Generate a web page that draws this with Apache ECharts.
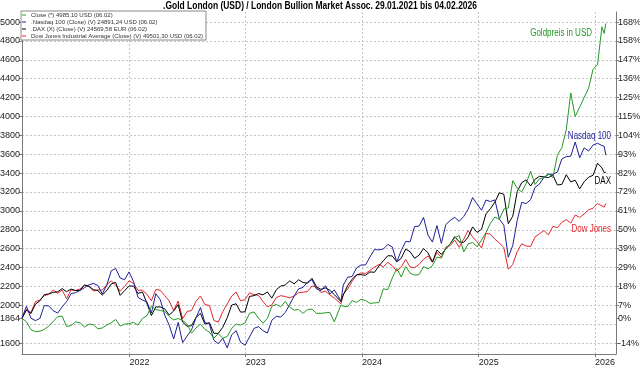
<!DOCTYPE html>
<html>
<head>
<meta charset="utf-8">
<script src="https://cdn.jsdelivr.net/npm/echarts@6/dist/echarts.min.js"></script>
<style>html,body{margin:0;padding:0;background:#fff}#c{width:640px;height:366px}</style>
</head>
<body>
<div id="c"></div>
<script>
const dates = [
'2021-01-29','2021-02-12','2021-02-26','2021-03-12','2021-03-26','2021-04-09','2021-04-23','2021-05-07','2021-05-21','2021-06-04','2021-06-18','2021-07-02','2021-07-16','2021-07-30','2021-08-13','2021-08-27','2021-09-10','2021-09-24','2021-10-08','2021-10-22','2021-11-05','2021-11-19','2021-12-03','2021-12-17','2021-12-31',
'2022-01-14','2022-01-28','2022-02-11','2022-02-25','2022-03-11','2022-03-25','2022-04-08','2022-04-22','2022-05-06','2022-05-20','2022-06-03','2022-06-17','2022-07-01','2022-07-15','2022-07-29','2022-08-12','2022-08-26','2022-09-09','2022-09-23','2022-10-07','2022-10-21','2022-11-04','2022-11-18','2022-12-02','2022-12-16','2022-12-30',
'2023-01-13','2023-01-27','2023-02-10','2023-02-24','2023-03-10','2023-03-24','2023-04-07','2023-04-21','2023-05-05','2023-05-19','2023-06-02','2023-06-16','2023-06-30','2023-07-14','2023-07-28','2023-08-11','2023-08-25','2023-09-08','2023-09-22','2023-10-06','2023-10-27','2023-11-03','2023-11-17','2023-12-01','2023-12-15','2023-12-29',
'2024-01-12','2024-01-26','2024-02-09','2024-02-23','2024-03-08','2024-03-22','2024-04-05','2024-04-19','2024-05-03','2024-05-17','2024-05-31','2024-06-14','2024-06-28','2024-07-12','2024-07-26','2024-08-09','2024-08-23','2024-09-06','2024-09-20','2024-10-04','2024-10-18','2024-11-01','2024-11-15','2024-11-29','2024-12-13','2024-12-27',
'2025-01-10','2025-01-24','2025-02-07','2025-02-21','2025-03-07','2025-03-21','2025-04-04','2025-04-18','2025-05-02','2025-05-16','2025-05-30','2025-06-13','2025-06-27','2025-07-11','2025-07-25','2025-08-08','2025-08-22','2025-09-05','2025-09-19','2025-10-03','2025-10-17','2025-10-31','2025-11-14','2025-11-28','2025-12-12','2025-12-26',
'2026-01-09','2026-01-23','2026-01-30','2026-02-04'
];
// Gold London (USD)
const gold = [
1864,1825,1743,1720,1725,1745,1780,1830,1880,1885,1775,1785,1825,1815,1770,1800,1795,1750,1760,1790,1815,1850,1780,1800,1805,
1820,1790,1860,1890,1990,1955,1945,1935,1880,1845,1860,1840,1800,1705,1760,1800,1745,1715,1650,1700,1650,1670,1755,1800,1790,1815,
1915,1930,1865,1810,1860,1990,2010,1985,2040,1980,1950,1955,1915,1955,1960,1915,1915,1920,1925,1825,2005,1990,1985,2050,2030,2065,
2050,2020,2025,2030,2175,2165,2290,2390,2300,2410,2340,2320,2325,2410,2385,2420,2510,2500,2610,2650,2715,2740,2565,2650,2665,2620,
2690,2770,2870,2935,2910,3020,3030,3320,3240,3200,3290,3420,3280,3340,3350,3400,3350,3590,3670,3860,4250,4000,4100,4200,4300,4500,
4550,4950,4880,4985
];
// Nasdaq 100 (index points)
const nasdaq = [
12925,13800,12920,12740,12900,13850,13820,13470,13300,13750,14140,14720,14800,14960,15160,15370,15480,15320,14700,15350,16400,16570,15870,15750,16320,
15610,14450,14250,14120,13300,14720,14270,13140,12400,11400,12610,11130,11600,12070,12950,13700,12600,12500,11310,11040,11450,10740,11700,12000,11150,10940,
11540,12170,12300,12010,11830,12770,13060,13000,13340,13920,14550,15080,15180,15570,15750,15070,14940,15300,14700,15000,14180,15350,15930,15980,16620,16830,
16830,17420,17960,17940,18000,18340,18150,17040,17890,18550,18540,19660,19680,20330,19020,18510,19720,18420,19800,20100,20330,20030,20390,20930,21780,21310,
20850,21600,21490,21610,20200,19750,17400,18260,20100,21430,21340,21630,22530,22780,23270,23470,23500,23650,24620,24790,24820,25860,24700,25430,25200,25640,
25770,25600,25550,24891
];
// DAX (index points)
const dax = [
13433,14050,13786,14500,14750,15230,15280,15400,15440,15690,15450,15650,15540,15540,15980,15850,15610,15530,15200,15540,16050,16160,15170,15530,15885,
15880,15320,15430,14570,13630,14300,14280,14140,13670,13980,14460,13130,12810,12860,13480,13800,12970,13090,12280,12270,12730,13460,14430,14530,13890,13920,
15090,15150,15310,15210,15430,14960,15600,15880,15960,16280,16050,16360,16150,16100,16470,15830,15630,15740,15560,15230,14690,15190,15920,16400,16750,16750,
16700,16960,16930,17420,17810,18200,18180,17740,18000,18700,18500,18000,18240,18750,18420,17720,18630,18300,18720,19120,19660,19250,19210,19630,20400,19980,
20210,21390,21790,22290,23000,22890,20640,21210,23090,23770,23990,23520,24030,24260,24220,24160,24360,23600,23640,24380,23830,23960,23300,23840,24190,24340,
25260,24900,24540,24569
];
// Dow Jones Industrial Average (index points)
const dow = [
29983,31460,30930,32780,33070,33800,34040,34780,34210,34760,33290,34790,34690,34935,35515,35455,34610,34800,34750,35680,36330,35600,34580,35370,36340,
35910,34730,34740,34060,32940,34860,34720,33810,32900,31260,32900,29890,31100,31290,32850,33760,32280,32150,29590,29300,31080,32400,33750,34430,32920,33150,
34300,33980,33870,32820,31910,32240,33490,33810,33670,33430,33760,34300,34410,34510,35460,35280,34350,34580,33960,33410,32420,34060,34950,36250,37300,37690,
37590,38110,38670,39130,38720,39480,38900,37990,38680,40000,38690,38590,39120,40000,40590,39500,41175,40345,42060,42350,43280,42050,43440,44910,43830,42990,
41940,44420,44300,43430,42800,41990,38310,39140,41320,42650,42270,42200,43820,44370,44900,44175,45630,45400,46315,46760,46190,47560,47150,47720,48460,48710,
49504,49098,48892,49501
];
const leftTicks = [1600,1864,2000,2200,2400,2600,2800,3000,3200,3400,3600,3800,4000,4200,4400,4600,4800,5000];
const rightTickLabels = ['-14%','0%','7%','18%','29%','39%','50%','61%','72%','82%','93%','104%','115%','125%','136%','147%','158%','168%'];
const gridValues = [1600,1800,2000,2200,2400,2600,2800,3000,3200,3400,3600,3800,4000,4200,4400,4600,4800,5000];
const yearTicks = [2022,2023,2024,2025,2026];
const seriesNames = [
 'Close (*) 4985,10 USD (06.02)',
 '.Nasdaq 100 (Close) (V) 24891,24 USD (06.02)',
 '.DAX (X) (Close) (V) 24569,58 EUR (06.02)',
 'Dow Jones Industrial Average (Close) (V) 49501,30 USD (06.02)'
];
const titleText = '.Gold London (USD) / London Bullion Market Assoc. 29.01.2021 bis 04.02.2026';
const colors = ['#229922','#1e1e96','#000000','#e3262b'];

const F = "'Liberation Sans',Arial,sans-serif";
const ts = s => { const p = s.split('-').map(Number); return new Date(p[0], p[1] - 1, p[2]).getTime(); };
const base = gold[0];
const rebase = arr => arr.map(v => v * base / arr[0]);
const pairs = vals => dates.map((d, i) => [ts(d), vals[i]]);
const yearTs = yearTicks.map(y => new Date(y, 0, 1).getTime());
const lineSeries = (name, vals, color, z) => ({
  name, type: 'line', data: pairs(vals), showSymbol: false, symbol: 'none',
  lineStyle: {width: 1, color}, itemStyle: {color}, z, animation: false, yAxisIndex: 0
});

const chart = echarts.init(document.getElementById('c'), null, {renderer: 'canvas'});
const axisY = (pos, fmt, margin) => ({
  type: 'value', position: pos, min: 1484, max: 5107,
  axisLine: {show: true, lineStyle: {color: '#7a7a7a', width: 1}},
  axisTick: {show: true, customValues: leftTicks, length: 3, inside: false, lineStyle: {color: '#7a7a7a'}},
  axisLabel: {show: true, customValues: leftTicks, formatter: fmt, margin,
    fontFamily: F, fontSize: 9, color: '#222'},
  splitLine: {show: false}
});
const annot = (text, x, y, color) => ({type: 'text', x, y, scaleX: 0.8, z: 10,
  style: {text, fill: color, font: '10px ' + F, textAlign: 'right', textVerticalAlign: 'middle'}});
chart.setOption({
  animation: false,
  grid: {left: 22, right: 24, top: 12, bottom: 12, containLabel: false, outerBoundsMode: 'none'},
  legend: {
    data: seriesNames, orient: 'vertical', left: 21, top: 11,
    padding: [1, 3, 1, 1], itemGap: 1, itemWidth: 4, itemHeight: 1, icon: 'rect',
    backgroundColor: '#fff', borderColor: '#8a8a8a', borderWidth: 1,
    textStyle: {fontFamily: F, fontSize: 6, lineHeight: 6, color: '#333'},
    selectedMode: false
  },
  xAxis: {
    type: 'value', min: ts('2021-01-29'), max: ts('2026-03-08'),
    axisLine: {show: true, lineStyle: {color: '#7a7a7a'}},
    axisTick: {show: true, customValues: yearTs, length: 3, lineStyle: {color: '#7a7a7a'}},
    axisLabel: {customValues: yearTs, formatter: v => String(new Date(v).getFullYear()),
      align: 'left', margin: 4, fontFamily: F, fontSize: 9, color: '#222'},
    splitLine: {show: true, lineStyle: {color: '#c4c4c4', type: [2, 2], width: 1}}
  },
  yAxis: [
    axisY('left', v => String(v), 2),
    axisY('right', v => rightTickLabels[leftTicks.indexOf(v)], 2),
    {type: 'value', min: 1484, max: 5107, position: 'left',
     axisLine: {show: false}, axisLabel: {show: false, customValues: gridValues},
     axisTick: {show: false, customValues: gridValues},
     splitLine: {show: true, lineStyle: {color: '#c4c4c4', type: [2, 2], width: 1}}}
  ],
  series: [
    lineSeries(seriesNames[3], rebase(dow), colors[3], 2),
    lineSeries(seriesNames[2], rebase(dax), colors[2], 3),
    lineSeries(seriesNames[1], rebase(nasdaq), colors[1], 4),
    lineSeries(seriesNames[0], gold, colors[0], 5)
  ],
  graphic: [
    {type: 'text', x: 320, y: 6, scaleX: 0.77, z: 10,
     style: {text: titleText, fill: '#000', font: 'bold 11px ' + F, textAlign: 'center', textVerticalAlign: 'middle'}},
    annot('Goldpreis in USD', 592, 33, colors[0]),
    annot('Nasdaq 100', 611, 136, colors[1]),
    annot('DAX', 611, 181, '#000'),
    annot('Dow Jones', 611, 229, colors[3])
  ]
});
</script>
</body>
</html>
